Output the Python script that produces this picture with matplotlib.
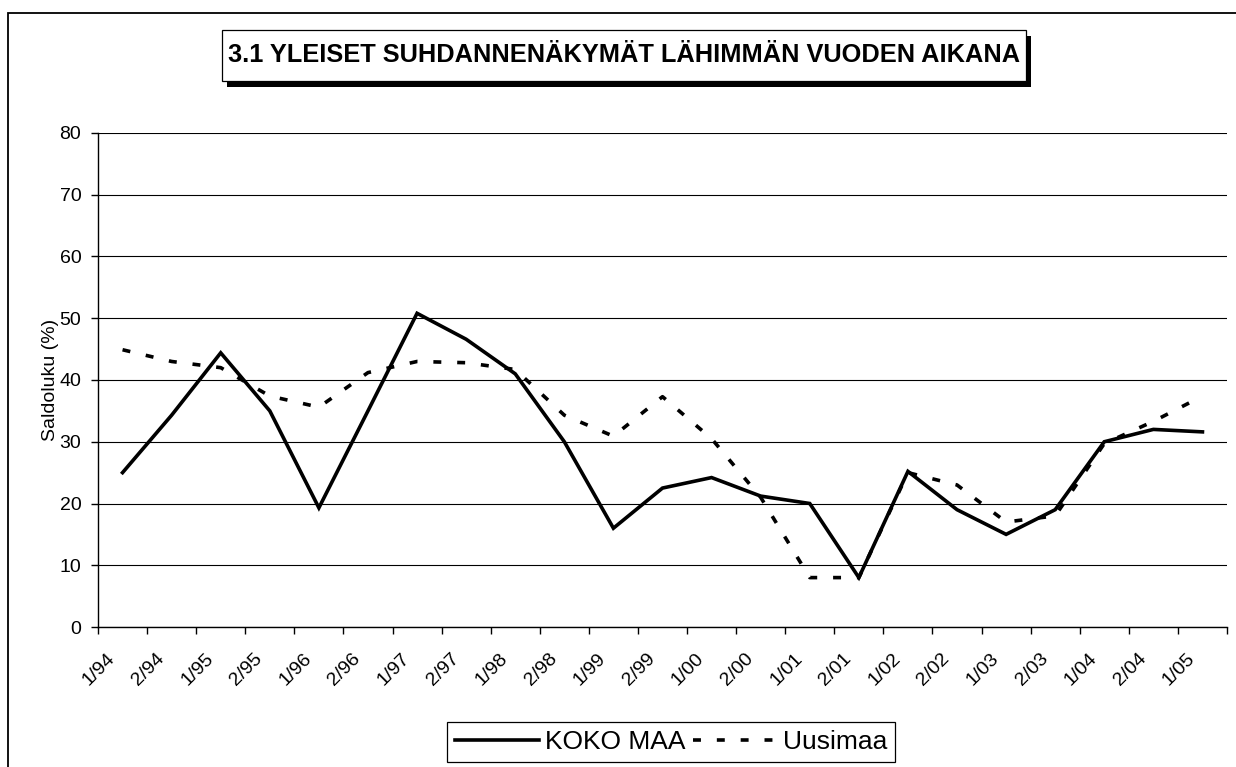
import numpy as np
import matplotlib
matplotlib.use('Agg')
import matplotlib.pyplot as plt
from matplotlib.patches import Rectangle
from matplotlib.lines import Line2D
from matplotlib.transforms import ScaledTranslation

plt.rcParams['font.family'] = ['Liberation Sans', 'DejaVu Sans']

# data
periods = ['1/94', '2/94', '1/95', '2/95', '1/96', '2/96', '1/97', '2/97',
           '1/98', '2/98', '1/99', '2/99', '1/00', '2/00', '1/01', '2/01',
           '1/02', '2/02', '1/03', '2/03', '1/04', '2/04', '1/05']
koko_maa = [25, 34.3, 44.4, 35, 19.3, 35, 50.8, 46.6, 41, 30, 16, 22.5,
            24.2, 21.2, 20, 8, 25.2, 19, 15, 19, 30, 32, 31.6]
uusimaa = [44.9, 43, 42, 37.4, 35.6, 41.2, 43, 42.8, 41.7, 34.3, 30.9, 37.3,
           30.5, 21, 8, 8, 25, 23, 17, 18, 29.7, 33.3, 37.4]

W, H = 1236, 767
fig = plt.figure(figsize=(W / 100, H / 100), dpi=100)
ax = fig.add_axes([98 / W, 1 - 627 / H, (1227 - 98) / W, (627 - 133) / H])

lw = 2.6
dash = (2.2, 4.4)
x = np.arange(len(periods))
ax.plot(x, koko_maa, color='black', lw=lw, solid_joinstyle='miter')
ax.plot(x, uusimaa, color='black', lw=lw, dashes=dash, dash_capstyle='butt')

ax.set_xlim(-0.5, len(periods) - 0.5)
ax.set_ylim(0, 80)
ax.set_yticks(np.arange(0, 81, 10))
ax.yaxis.grid(True, color='black', lw=0.8)
ax.set_axisbelow(True)

# ticks on category borders, labels in the middle
ax.set_xticks(np.arange(-0.5, len(periods)), labels=[])
ax.set_xticks(x, labels=periods, minor=True)
ax.tick_params(axis='x', which='major', length=5, width=1, direction='out')
ax.tick_params(axis='x', which='minor', length=0, pad=21, labelsize=14)
ax.tick_params(axis='y', length=5, width=1, direction='out', pad=7, labelsize=14)
off = ScaledTranslation(-10 / 100, 0, fig.dpi_scale_trans)
for lab in ax.get_xticklabels(minor=True):
    lab.set_rotation(45)
    lab.set_ha('right')
    lab.set_va('center')
    lab.set_rotation_mode('anchor')
    lab.set_transform(lab.get_transform() + off)

for s in ['top', 'right']:
    ax.spines[s].set_visible(False)
for s in ['left', 'bottom']:
    ax.spines[s].set_linewidth(1)

ax.set_ylabel('Saldoluku (%)', fontsize=14)
ax.yaxis.set_label_coords((59 - 98) / (1227 - 98), 0.5)

# chart border
fig.add_artist(Rectangle((8 / W, -0.1), 1.2, 1.1 - 13 / H, transform=fig.transFigure,
                         fill=False, ec='black', lw=1.3))

# title in a box with a drop shadow
t = fig.text(624 / W, 1 - 62.5 / H, '3.1 YLEISET SUHDANNENÄKYMÄT LÄHIMMÄN VUODEN AIKANA',
             ha='center', va='baseline', fontsize=18.3, fontweight='bold', zorder=5)
fig.canvas.draw()
bb = t.get_window_extent()
bx0, bx1 = bb.x0 - 6, bb.x1 + 6
by0, by1 = H - 81, H - 29.5
fig.add_artist(Rectangle(((bx0 + 5) / W, (by0 - 6) / H), (bx1 - bx0) / W, (by1 - by0) / H,
                         transform=fig.transFigure, fc='black', ec='none', zorder=3))
fig.add_artist(Rectangle((bx0 / W, by0 / H), (bx1 - bx0) / W, (by1 - by0) / H,
                         transform=fig.transFigure, fc='white', ec='black', lw=0.9, zorder=4))

handles = [Line2D([], [], color='black', lw=lw),
           Line2D([], [], color='black', lw=lw, dashes=dash, dash_capstyle='butt')]
leg = fig.legend(handles, ['KOKO MAA', 'Uusimaa'], loc='upper left',
                 bbox_to_anchor=(447 / W, 1 - 722 / H), ncol=2, fontsize=19,
                 frameon=True, fancybox=False, edgecolor='black', framealpha=1,
                 handlelength=3.2, handletextpad=0.2, columnspacing=0.3,
                 borderpad=0.3, borderaxespad=0)
leg.get_frame().set_linewidth(0.9)

fig.savefig('out.png', dpi=100, facecolor='white')
